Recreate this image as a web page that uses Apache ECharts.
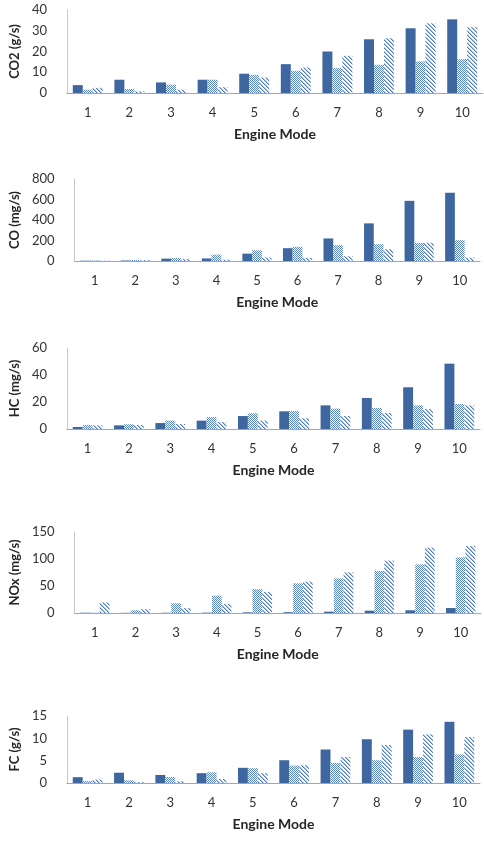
<!DOCTYPE html>
<html>
<head>
<meta charset="utf-8">
<script src="https://cdn.jsdelivr.net/npm/echarts@6/dist/echarts.min.js"></script>
<style>
  html, body { margin: 0; padding: 0; background: #fff; }
  #chart { width: 484px; height: 855px; }
</style>
</head>
<body>
<div id="chart"></div>
<script>
const modes = ['1', '2', '3', '4', '5', '6', '7', '8', '9', '10']

// CO2 (g/s)
const co2A = [3.8, 6.4, 5.1, 6.4, 9.3, 13.9, 20.0, 25.9, 31.2, 35.5]
const co2B = [1.6, 1.9, 4.0, 6.4, 8.8, 10.7, 12.0, 13.6, 15.2, 16.3]
const co2C = [2.5, 0.8, 1.6, 2.8, 7.5, 12.3, 17.9, 26.4, 33.6, 31.7]

// CO (mg/s)
const coA = [3, 5, 23, 25, 72, 125, 220, 367, 587, 666]
const coB = [5, 10, 30, 62, 105, 138, 154, 164, 177, 203]
const coC = [3, 8, 20, 13, 33, 30, 46, 115, 177, 33]

// HC (mg/s)
const hcA = [1.5, 2.7, 4.4, 6.2, 9.6, 13.1, 17.5, 23.0, 30.9, 48.4]
const hcB = [3.0, 3.5, 6.2, 8.9, 11.6, 13.3, 15.1, 15.6, 17.5, 18.5]
const hcC = [2.7, 3.0, 3.7, 5.2, 6.2, 7.9, 9.6, 11.9, 14.8, 17.5]

// NOx (mg/s)
const noxA = [0.5, 0.3, 0.5, 0.7, 1.2, 1.5, 2.5, 4.3, 5.0, 9.2]
const noxB = [0.5, 5, 18, 32, 44, 55, 64, 78, 90, 103]
const noxC = [19.6, 7, 9, 16.5, 39, 58, 75, 97, 121, 124]

// FC (g/s)
const fcA = [1.3, 2.3, 1.8, 2.2, 3.4, 5.1, 7.5, 9.8, 11.95, 13.7]
const fcB = [0.45, 0.6, 1.35, 2.4, 3.3, 3.9, 4.5, 5.1, 5.8, 6.4]
const fcC = [0.75, 0.2, 0.4, 0.9, 2.2, 4.0, 5.8, 8.5, 10.9, 10.3]

const panels = [
  { name: 'CO2 (g/s)', max: 40, step: 10, data: [co2A, co2B, co2C], grid: { left: 64, right: 1, top: 10, height: 83 } },
  { name: 'CO (mg/s)', max: 800, step: 200, data: [coA, coB, coC], grid: { left: 69, right: 4, top: 179, height: 82 } },
  { name: 'HC (mg/s)', max: 60, step: 20, data: [hcA, hcB, hcC], grid: { left: 62, right: 4, top: 348, height: 81 } },
  { name: 'NOx (mg/s)', max: 150, step: 50, data: [noxA, noxB, noxC], grid: { left: 69, right: 3, top: 532, height: 81 } },
  { name: 'FC (g/s)', max: 15, step: 5, data: [fcA, fcB, fcC], grid: { left: 62, right: 4, top: 716, height: 67 } }
]

// fill patterns
function dots() {
  const c = document.createElement('canvas')
  c.width = 2; c.height = 2
  const g = c.getContext('2d')
  g.fillStyle = '#ffffff'; g.fillRect(0, 0, 2, 2)
  g.fillStyle = '#5a86c6'
  g.fillRect(0, 0, 1, 1); g.fillRect(1, 1, 1, 1)
  return { image: c, repeat: 'repeat' }
}
function hatch() {
  const c = document.createElement('canvas')
  c.width = 4; c.height = 4
  const g = c.getContext('2d')
  g.fillStyle = '#ffffff'; g.fillRect(0, 0, 4, 4)
  g.fillStyle = '#4f7dbf'
  for (let i = 0; i < 4; i++) g.fillRect(i, i, 1, 1)
  g.fillStyle = '#a9c0e0'
  for (let i = 0; i < 4; i++) g.fillRect((i + 1) % 4, i, 1, 1)
  return { image: c, repeat: 'repeat' }
}
const fills = ['#3e67a0', dots(), hatch()]

const font = 'Lato, "Open Sans", sans-serif'
const grids = [], xAxes = [], yAxes = [], series = []

panels.forEach((p, i) => {
  grids.push(p.grid)
  xAxes.push({
    gridIndex: i,
    type: 'category',
    data: modes,
    name: 'Engine Mode',
    nameLocation: 'middle',
    nameGap: 34,
    nameTextStyle: { fontFamily: font, fontWeight: 'bold', fontSize: 14, color: '#262626' },
    axisLine: { lineStyle: { color: '#a6a6a6', width: 1 } },
    axisTick: { show: false },
    axisLabel: { fontFamily: font, fontSize: 13, color: '#333', margin: 13 }
  })
  yAxes.push({
    gridIndex: i,
    type: 'value',
    min: 0,
    max: p.max,
    interval: p.step,
    name: p.name,
    nameLocation: 'middle',
    nameGap: 39,
    nameTextStyle: { fontFamily: font, fontWeight: 'bold', fontSize: 13, color: '#262626' },
    axisLine: { show: true, lineStyle: { color: '#c8c8c8', width: 1 } },
    axisTick: { show: false },
    splitLine: { show: false },
    axisLabel: { fontFamily: font, fontSize: 13, color: '#333', margin: 20 }
  })
  p.data.forEach((vals, k) => {
    series.push({
      type: 'bar',
      xAxisIndex: i,
      yAxisIndex: i,
      data: vals,
      barGap: '0%',
      barCategoryGap: '28%',
      itemStyle: { color: fills[k] },
      animation: false
    })
  })
})

const chart = echarts.init(document.getElementById('chart'), null, { renderer: 'canvas' })
chart.setOption({
  backgroundColor: '#fff',
  animation: false,
  grid: grids,
  xAxis: xAxes,
  yAxis: yAxes,
  series
})
</script>
</body>
</html>
